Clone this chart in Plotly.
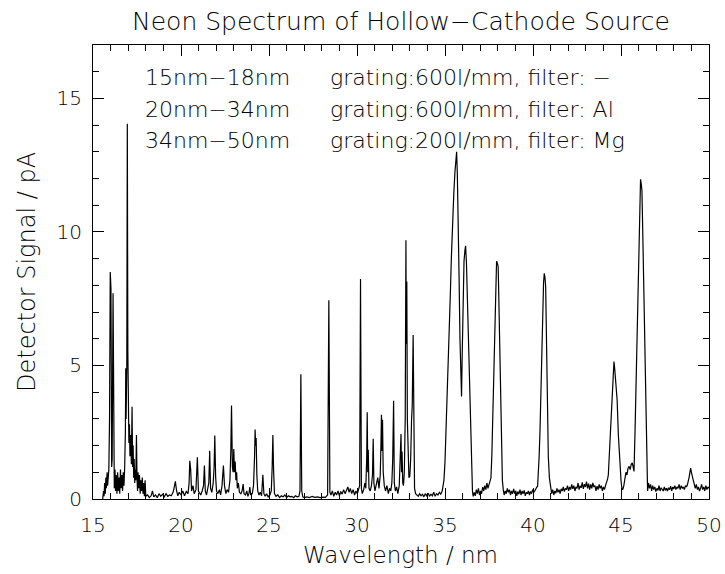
import plotly.graph_objects as go

# ---- data (wavelength in nm, signal in pA) ----
# 15nm-18nm  (grating 600 l/mm, no filter)
wl_a = [15.55, 15.60, 15.63, 15.66, 15.70, 15.73, 15.76, 15.80, 15.83, 15.86, 15.90, 15.94, 15.98, 16.02,
        16.06, 16.09, 16.14, 16.18, 16.21, 16.25, 16.28, 16.32, 16.36, 16.40, 16.44, 16.48, 16.52, 16.56,
        16.60, 16.64, 16.68, 16.72, 16.76, 16.80, 16.84, 16.86, 16.88, 16.92, 16.95, 16.98, 17.01, 17.04,
        17.07, 17.10, 17.14, 17.18, 17.22, 17.25, 17.28, 17.31, 17.34, 17.37, 17.40, 17.43, 17.47, 17.50,
        17.53, 17.56, 17.60, 17.64, 17.68, 17.72, 17.76, 17.80, 17.84, 17.88, 17.92, 17.96, 18.00]
sig_a = [0.0, 0.3, 0.1, 0.6, 0.2, 0.8, 0.4, 1.0, 0.5, 0.9, 1.1, 3.0, 8.5, 7.9,
         1.2, 1.5, 7.7, 1.0, 0.4, 1.1, 0.3, 0.9, 0.2, 1.0, 0.3, 0.8, 0.2, 1.1,
         0.4, 0.9, 0.3, 1.0, 0.5, 1.2, 2.5, 4.9, 3.0, 5.0, 14.05, 5.5, 3.2, 2.1,
         2.8, 1.6, 2.4, 1.3, 3.45, 1.2, 2.0, 0.8, 1.5, 0.6, 1.1, 0.7, 2.4, 0.8,
         0.3, 1.0, 0.4, 0.9, 0.2, 0.7, 0.3, 0.8, 0.2, 0.6, 0.1, 0.7, 0.1]

# 20nm-34nm  (grating 600 l/mm, Al filter)
wl_b = [18.10, 18.20, 18.30, 18.38, 18.45, 18.55, 18.65, 18.75, 18.85, 18.95, 19.05, 19.15, 19.25, 19.35,
        19.45, 19.55, 19.62, 19.68, 19.75, 19.82, 19.90, 20.00, 20.10, 20.20, 20.30, 20.40, 20.46, 20.50,
        20.55, 20.60, 20.68, 20.75, 20.85, 20.93, 20.99, 21.05, 21.12, 21.20, 21.28, 21.33, 21.38, 21.45,
        21.52, 21.58, 21.63, 21.68, 21.75, 21.83, 21.88, 21.92, 21.97, 22.02, 22.10, 22.18, 22.25, 22.33,
        22.41, 22.47, 22.55, 22.62, 22.70, 22.78, 22.83, 22.87, 22.92, 22.96, 23.00, 23.04, 23.08, 23.12,
        23.16, 23.20, 23.26, 23.32, 23.40, 23.47, 23.53, 23.58, 23.66, 23.74, 23.80, 23.86, 23.91, 23.96,
        24.05, 24.12, 24.18, 24.21, 24.24, 24.27, 24.31, 24.36, 24.43, 24.50, 24.58, 24.65, 24.71, 24.78,
        24.86, 24.95, 25.05, 25.13, 25.18, 25.22, 25.26, 25.31, 25.40, 25.50, 25.60, 25.70, 25.80, 25.90,
        26.00, 26.10, 26.20, 26.30, 26.40, 26.50, 26.60, 26.70, 26.76, 26.81, 26.86, 26.92, 27.00, 27.15,
        27.30, 27.45, 27.60, 27.75, 27.90, 28.05, 28.20, 28.33, 28.40, 28.46, 28.52, 28.60, 28.68, 28.76,
        28.84, 28.92, 29.00, 29.08, 29.16, 29.24, 29.32, 29.40, 29.48, 29.55, 29.62, 29.70, 29.78, 29.86,
        29.94, 30.02, 30.10, 30.15, 30.20, 30.25, 30.30, 30.38, 30.45, 30.50, 30.55, 30.58, 30.61, 30.64,
        30.68, 30.75, 30.82, 30.88, 30.92, 30.96, 31.02, 31.10, 31.18, 31.25, 31.32, 31.36, 31.39, 31.42,
        31.45, 31.49, 31.55, 31.62, 31.70, 31.78, 31.85, 31.92, 31.98, 32.03, 32.08, 32.12, 32.18, 32.25,
        32.32, 32.40, 32.46, 32.50, 32.53, 32.56, 32.60, 32.64, 32.69, 32.74, 32.78, 32.80, 32.83, 32.86,
        32.90, 32.95, 33.00, 33.05, 33.10, 33.14, 33.19, 33.23, 33.27, 33.33, 33.40, 33.48, 33.56, 33.64,
        33.72, 33.80, 33.88, 33.96]
sig_b = [0.15, 0.05, 0.12, 0.3, 0.08, 0.15, 0.05, 0.2, 0.1, 0.18, 0.08, 0.2, 0.1, 0.15,
         0.12, 0.25, 0.45, 0.66, 0.3, 0.12, 0.25, 0.15, 0.3, 0.12, 0.28, 0.2, 0.6, 1.43,
         1.1, 0.3, 0.5, 0.2, 0.35, 1.56, 0.3, 0.25, 0.15, 0.3, 0.5, 1.25, 0.3, 0.15,
         0.4, 0.6, 1.81, 0.4, 0.25, 0.6, 1.2, 2.38, 0.8, 0.3, 0.2, 0.35, 0.15, 0.5,
         1.25, 0.5, 0.2, 0.35, 0.25, 0.7, 1.8, 3.5, 1.2, 1.0, 1.87, 1.0, 1.4, 0.7,
         1.0, 0.4, 0.6, 0.25, 0.2, 0.3, 0.56, 0.2, 0.15, 0.3, 0.1, 0.2, 0.45, 0.15,
         0.2, 0.5, 1.6, 2.6, 2.0, 2.28, 0.9, 0.3, 0.15, 0.25, 0.12, 0.91, 0.2, 0.1,
         0.2, 0.08, 0.15, 0.3, 1.2, 2.4, 1.1, 0.2, 0.1, 0.15, 0.05, 0.12, 0.08, 0.15,
         0.05, 0.12, 0.08, 0.1, 0.05, 0.12, 0.08, 0.1, 0.3, 4.67, 0.3, 0.08, 0.05, 0.08,
         0.05, 0.1, 0.06, 0.08, 0.05, 0.07, 0.06, 0.15, 7.44, 0.25, 0.15, 0.3, 0.1, 0.25,
         0.15, 0.3, 0.12, 0.28, 0.18, 0.35, 0.2, 0.3, 0.45, 0.25, 0.4, 0.2, 0.35, 0.15,
         0.3, 0.2, 0.35, 0.5, 8.24, 0.4, 0.2, 0.35, 0.6, 0.4, 1.5, 3.25, 1.0, 1.84,
         0.4, 0.3, 0.5, 0.9, 2.26, 0.6, 0.3, 0.5, 0.8, 0.4, 0.9, 2.0, 3.15, 1.8,
         2.97, 1.0, 0.5, 0.3, 0.5, 0.2, 0.4, 0.3, 0.6, 1.5, 3.68, 0.6, 0.3, 0.45,
         0.2, 0.5, 1.4, 2.43, 1.0, 1.78, 0.6, 0.5, 1.0, 3.0, 9.69, 5.8, 8.14, 3.0,
         1.2, 0.8, 0.85, 1.5, 2.97, 3.5, 6.14, 1.5, 0.4, 0.2, 0.15, 0.1, 0.2, 0.12,
         0.18, 0.08, 0.2, 0.12]

# 34nm-50nm  (grating 200 l/mm, Mg filter)
wl_c = [34.04, 34.12, 34.20, 34.28, 34.36, 34.44, 34.52, 34.60, 34.68, 34.76, 34.84, 34.90, 34.94, 35.00,
        35.06, 35.12, 35.18, 35.24, 35.30, 35.36, 35.42, 35.50, 35.56, 35.60, 35.64, 35.66, 35.70, 35.75,
        35.80, 35.85, 35.90, 35.94, 35.98, 36.03, 36.08, 36.13, 36.17, 36.22, 36.28, 36.33, 36.38, 36.42,
        36.47, 36.52, 36.56, 36.60, 36.66, 36.72, 36.78, 36.84, 36.90, 36.96, 37.02, 37.08, 37.14, 37.20,
        37.26, 37.32, 37.38, 37.44, 37.50, 37.56, 37.61, 37.66, 37.71, 37.76, 37.80, 37.84, 37.88, 37.93,
        37.97, 38.02, 38.05, 38.08, 38.12, 38.15, 38.18, 38.22, 38.26, 38.31, 38.36, 38.42, 38.48, 38.54,
        38.60, 38.66, 38.72, 38.78, 38.84, 38.90, 38.96, 39.02, 39.08, 39.14, 39.20, 39.26, 39.32, 39.38,
        39.44, 39.50, 39.56, 39.62, 39.68, 39.74, 39.80, 39.86, 39.92, 39.98, 40.04, 40.10, 40.16, 40.22,
        40.26, 40.30, 40.35, 40.40, 40.45, 40.50, 40.55, 40.60, 40.64, 40.68, 40.72, 40.77, 40.82, 40.87,
        40.93, 41.00, 41.06, 41.12, 41.18, 41.24, 41.30, 41.36, 41.42, 41.48, 41.54, 41.60, 41.66, 41.72,
        41.78, 41.84, 41.90, 41.96, 42.02, 42.08, 42.14, 42.20, 42.26, 42.32, 42.38, 42.44, 42.50, 42.56,
        42.62, 42.68, 42.74, 42.80, 42.86, 42.92, 42.98, 43.04, 43.10, 43.16, 43.22, 43.28, 43.34, 43.40,
        43.46, 43.52, 43.58, 43.64, 43.70, 43.76, 43.82, 43.88, 43.94, 44.00, 44.06, 44.12, 44.18, 44.24,
        44.28, 44.34, 44.40, 44.47, 44.53, 44.60, 44.64, 44.67, 44.72, 44.78, 44.85, 44.93, 45.00, 45.05,
        45.10, 45.16, 45.22, 45.28, 45.34, 45.40, 45.46, 45.52, 45.58, 45.64, 45.69, 45.74, 45.80, 45.85,
        45.89, 45.94, 45.99, 46.04, 46.08, 46.11, 46.15, 46.19, 46.23, 46.27, 46.33, 46.39, 46.45, 46.51,
        46.56, 46.62, 46.68, 46.74, 46.80, 46.86, 46.92, 46.98, 47.04, 47.10, 47.16, 47.22, 47.28, 47.34,
        47.40, 47.46, 47.52, 47.58, 47.64, 47.70, 47.76, 47.82, 47.88, 47.94, 48.00, 48.06, 48.12, 48.18,
        48.24, 48.30, 48.36, 48.42, 48.48, 48.54, 48.60, 48.66, 48.72, 48.78, 48.83, 48.88, 48.93, 48.96,
        49.00, 49.05, 49.10, 49.16, 49.22, 49.28, 49.34, 49.40, 49.46, 49.52, 49.58, 49.64, 49.70, 49.76,
        49.82, 49.88, 49.94, 50.00]
sig_c = [0.22, 0.1, 0.18, 0.12, 0.25, 0.1, 0.2, 0.15, 0.25, 0.18, 0.3, 0.5, 0.7, 1.4,
         2.5, 3.8, 4.9, 5.96, 7.6, 9.0, 10.3, 11.44, 12.2, 12.5, 12.9, 13.0, 12.2, 10.7,
         8.3, 6.0, 4.6, 3.84, 5.5, 7.5, 8.9, 9.3, 9.48, 8.82, 7.2, 5.6, 4.3, 3.2,
         1.8, 0.8, 0.3, 0.1, 0.25, 0.12, 0.35, 0.2, 0.4, 0.15, 0.3, 0.2, 0.45, 0.3,
         0.5, 0.35, 0.6, 0.4, 0.55, 0.65, 0.79, 1.6, 3.2, 4.8, 5.9, 6.95, 8.2, 8.9,
         8.85, 8.7, 7.8, 6.83, 5.0, 3.8, 2.6, 1.4, 0.7, 0.35, 0.15, 0.3, 0.2, 0.4,
         0.25, 0.35, 0.15, 0.3, 0.2, 0.38, 0.2, 0.3, 0.12, 0.28, 0.18, 0.35, 0.15, 0.3,
         0.2, 0.32, 0.12, 0.25, 0.2, 0.3, 0.15, 0.28, 0.2, 0.35, 0.25, 0.3, 0.4, 0.45,
         0.47, 0.9, 1.6, 2.6, 4.0, 5.8, 7.45, 8.1, 8.45, 8.3, 7.95, 5.33, 3.2, 1.6,
         0.8, 0.35, 0.2, 0.35, 0.15, 0.3, 0.22, 0.4, 0.25, 0.35, 0.2, 0.38, 0.3, 0.45,
         0.28, 0.4, 0.35, 0.5, 0.3, 0.45, 0.35, 0.55, 0.38, 0.5, 0.3, 0.45, 0.4, 0.6,
         0.35, 0.5, 0.42, 0.62, 0.38, 0.55, 0.45, 0.65, 0.4, 0.58, 0.35, 0.55, 0.4, 0.6,
         0.45, 0.5, 0.3, 0.48, 0.35, 0.55, 0.4, 0.5, 0.3, 0.45, 0.35, 0.5, 0.6, 0.75,
         0.9, 1.6, 2.4, 3.2, 4.3, 5.15, 4.9, 4.65, 4.2, 3.71, 2.4, 1.35, 0.7, 0.4,
         0.35, 0.5, 0.8, 1.0, 0.9, 1.15, 1.22, 1.1, 1.3, 1.35, 1.2, 1.03, 2.6, 4.2,
         5.7, 7.6, 9.2, 10.44, 11.5, 11.97, 11.8, 11.56, 10.2, 8.7, 6.5, 4.46, 2.2, 0.3,
         0.6, 0.4, 0.55, 0.3, 0.5, 0.35, 0.45, 0.28, 0.4, 0.32, 0.5, 0.3, 0.42, 0.35,
         0.3, 0.45, 0.32, 0.4, 0.3, 0.42, 0.35, 0.48, 0.3, 0.45, 0.38, 0.5, 0.35, 0.45,
         0.4, 0.55, 0.35, 0.5, 0.4, 0.45, 0.35, 0.5, 0.45, 0.55, 0.66, 0.85, 1.05, 1.16,
         1.0, 0.85, 0.72, 0.5, 0.4, 0.55, 0.35, 0.45, 0.3, 0.4, 0.55, 0.35, 0.45, 0.3,
         0.5, 0.35, 0.45, 0.4]

x_ticks = [15, 20, 25, 30, 35, 40, 45, 50]
y_ticks = [0, 5, 10, 15]

title_text = "Neon Spectrum of Hollow\u2212Cathode Source"
x_title = "Wavelength / nm"
y_title = "Detector Signal / pA"
notes_left = ["15nm\u221218nm", "20nm\u221234nm", "34nm\u221250nm"]
notes_right = ["grating:600l/mm, filter: \u2212",
               "grating:600l/mm, filter: Al",
               "grating:200l/mm, filter: Mg"]

# ---- figure ----
W, H = 725, 574
L, R, T, B = 93, 16, 45, 75
PW, PH = W - L - R, H - T - B

def px_x(px):
    return (px - L) / PW

def px_y(py):
    return (H - B - py) / PH

FONT = "DejaVu Sans"
WEIGHT = 200

def fnt(size):
    return dict(family=FONT, size=size, color="black", weight=WEIGHT)

fig = go.Figure()
fig.add_trace(go.Scatter(x=wl_a + wl_b + wl_c, y=sig_a + sig_b + sig_c,
                         mode="lines", line=dict(color="black", width=1.2),
                         showlegend=False, hoverinfo="skip"))

axis_common = dict(
    showline=True, linecolor="black", linewidth=1, mirror="allticks",
    ticks="inside", ticklen=11, tickwidth=1, tickcolor="black",
    showgrid=False, zeroline=False,
    tickfont=fnt(20),
    minor=dict(ticks="inside", ticklen=6, tickwidth=1, tickcolor="black", dtick=1, showgrid=False),
)
fig.update_xaxes(range=[15, 50], tickvals=x_ticks, ticktext=[str(v) for v in x_ticks],
                 ticklabelstandoff=8, **axis_common)
fig.update_yaxes(range=[0, 17], tickvals=y_ticks, ticktext=[str(v) for v in y_ticks],
                 ticklabelstandoff=6, **axis_common)

ann = []
ann.append(dict(text=title_text, x=0.5, y=px_y(21), xref="paper", yref="paper",
                xanchor="center", yanchor="middle", showarrow=False, font=fnt(25)))
ann.append(dict(text=x_title, x=px_x(400), y=px_y(555), xref="paper", yref="paper",
                xanchor="center", yanchor="middle", showarrow=False, font=fnt(23)))
ann.append(dict(text=y_title, x=px_x(27), y=0.5, xref="paper", yref="paper",
                xanchor="center", yanchor="middle", textangle=-90, showarrow=False,
                font=fnt(24)))
for i, (a, b) in enumerate(zip(notes_left, notes_right)):
    yy = px_y(77.5 + 31.7 * i)
    ann.append(dict(text=a, x=px_x(142.7), y=yy, xref="paper", yref="paper",
                    xanchor="left", yanchor="middle", showarrow=False, font=fnt(22)))
    ann.append(dict(text=b, x=px_x(328), y=yy, xref="paper", yref="paper",
                    xanchor="left", yanchor="middle", showarrow=False, font=fnt(22)))

fig.update_layout(width=W, height=H, margin=dict(l=L, r=R, t=T, b=B, autoexpand=False),
                  paper_bgcolor="white", plot_bgcolor="white", annotations=ann,
                  showlegend=False)

fig.write_html("out.html", config={"displayModeBar": False, "staticPlot": True},
               post_script="document.body.style.margin='0';document.body.style.overflow='hidden';")
